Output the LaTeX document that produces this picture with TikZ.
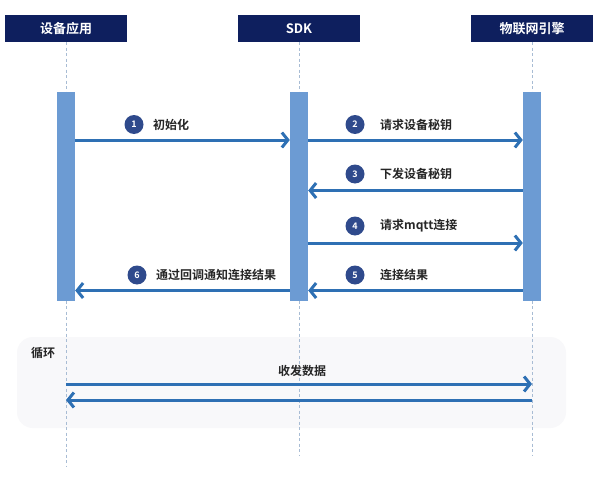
\documentclass[tikz,border=0pt]{standalone}
\usepackage{fontspec}
\setmainfont{Noto Sans CJK SC}[BoldFont={Noto Sans CJK SC Bold}]
\usetikzlibrary{arrows.meta}
\definecolor{hdr}{HTML}{0E1F5E}
\definecolor{barc}{HTML}{6C9BD3}
\definecolor{arr}{HTML}{2E70B4}
\definecolor{num}{HTML}{2F4A8C}
\definecolor{life}{HTML}{A8BCD4}
\definecolor{loopbg}{HTML}{F8F8FA}
\tikzset{
  header/.style={fill=hdr, minimum width=122pt, minimum height=27pt, inner sep=0pt, text=white, font=\bfseries\fontsize{13}{13}\selectfont},
  actbar/.style={fill=barc, minimum width=18pt, minimum height=209pt, inner sep=0pt},
  lifeline/.style={draw=life, line width=0.8pt, dash pattern=on 3pt off 2.5pt},
  msg/.style={draw=arr, line width=3pt, -{Straight Barb[length=6pt,width=15pt,line width=3pt]}},
  numc/.style={circle, fill=num, minimum size=19pt, inner sep=0pt, text=white, font=\bfseries\fontsize{9}{9}\selectfont},
  lbl/.style={anchor=west, inner sep=0pt, font=\bfseries\fontsize{12}{12}\selectfont, text=black!85},
}
\begin{document}
\begin{tikzpicture}[x=1pt,y=-1pt]
\useasboundingbox (0,0) rectangle (600,487);
\fill[white] (0,0) rectangle (600,487);
% loop background
\node[fill=loopbg, rounded corners=16pt, minimum width=549pt, minimum height=91pt, inner sep=0pt] (loopbox) at (291.5,382.5) {};
% headers
\node[header] (h1) at (66,28.5) {设备应用};
\node[header] (h2) at (299,28.5) {SDK};
\node[header] (h3) at (532,28.5) {物联网引擎};
% lifelines
\coordinate (e1) at (66,466);
\coordinate (e2) at (299,456);
\coordinate (e3) at (532,456);
\draw[lifeline] (h1.south) -- (e1);
\draw[lifeline] (h2.south) -- (e2);
\draw[lifeline] (h3.south) -- (e3);
% activation bars
\node[actbar] (b1) at (66,196.5) {};
\node[actbar] (b2) at (299,196.5) {};
\node[actbar] (b3) at (532,196.5) {};
% message levels
\coordinate (y1) at (0,140);
\coordinate (y3) at (0,190.5);
\coordinate (y4) at (0,243);
\coordinate (y5) at (0,290.5);
\draw[msg] (b1.east |- y1) -- (b2.west |- y1);
\draw[msg] (b2.east |- y1) -- (b3.west |- y1);
\draw[msg] (b3.west |- y3) -- (b2.east |- y3);
\draw[msg] (b2.east |- y4) -- (b3.west |- y4);
\draw[msg] (b3.west |- y5) -- (b2.east |- y5);
\draw[msg] (b2.west |- y5) -- (b1.east |- y5);
% numbers and labels
\node[numc] (n1) at (134,124.5) {1};
\node[lbl] (t1) at (153,124.5) {初始化};
\node[numc] (n2) at (355,124.5) {2};
\node[lbl] (t2) at (380,124.5) {请求设备秘钥};
\node[numc] (n3) at (355,174) {3};
\node[lbl] (t3) at (380,174) {下发设备秘钥};
\node[numc] (n4) at (355,226) {4};
\node[lbl] (t4) at (380,226) {请求mqtt连接};
\node[numc] (n5) at (355,275) {5};
\node[lbl] (t5) at (380,275) {连接结果};
\node[numc] (n6) at (137,275) {6};
\node[lbl] (t6) at (156,275) {通过回调通知连接结果};
% loop
\node[lbl] (lp) at (31,353) {循环};
\node[font=\bfseries\fontsize{12}{12}\selectfont, text=black!85, inner sep=0pt] (ld) at (302,371) {收发数据};
\coordinate (ly1) at (0,384);
\coordinate (ly2) at (0,400);
\draw[msg] (h1.south |- ly1) -- (h3.south |- ly1);
\draw[msg] (h3.south |- ly2) -- (h1.south |- ly2);
\end{tikzpicture}
\end{document}
